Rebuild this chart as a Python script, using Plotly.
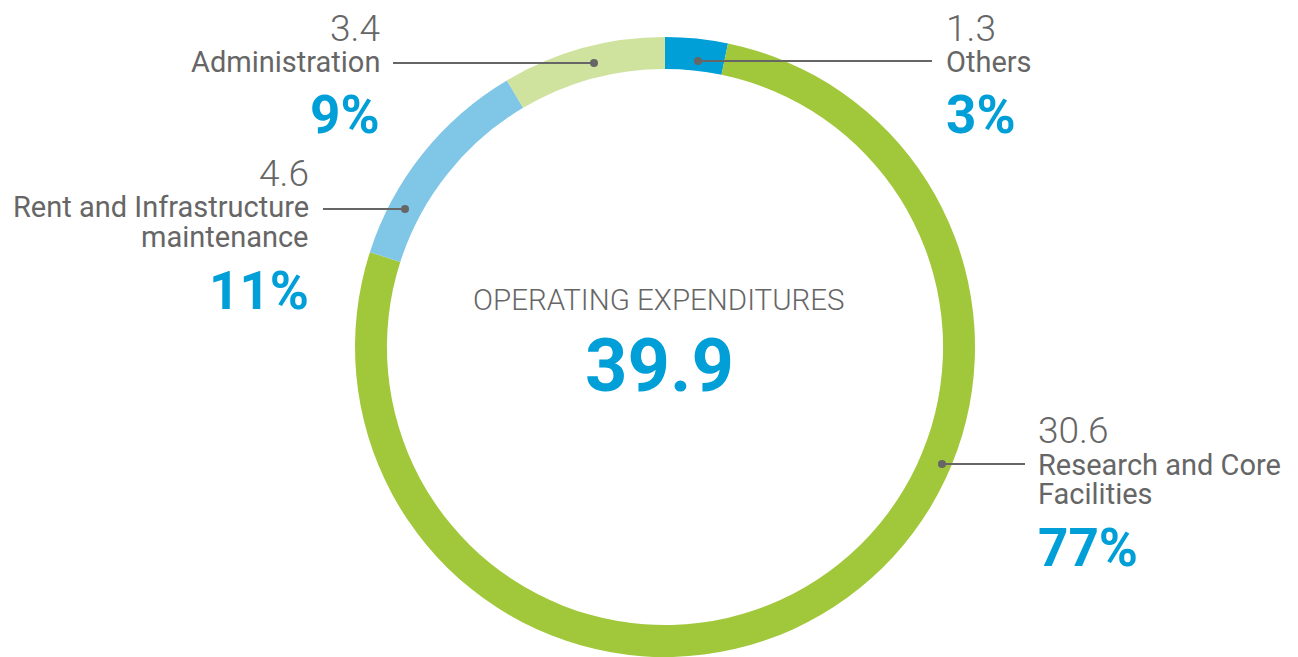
import plotly.graph_objects as go

# ---- data ----
categories = ["Others", "Research and Core Facilities", "Rent and Infrastructure maintenance", "Administration"]
values = [1.3, 30.6, 4.6, 3.4]
percent_labels = ["3%", "77%", "11%", "9%"]
value_labels = ["1.3", "30.6", "4.6", "3.4"]
total_label = "39.9"
center_title = "OPERATING EXPENDITURES"

# ---- styles ----
slice_colors = ["#009FD7", "#A1C83A", "#7FC6E7", "#CFE29E"]
GRAY = "#666666"
BLUE = "#009FD7"
FONT = "Roboto"
OFF = 8  # page body margin
W, H = 1298 - OFF, 657 - OFF

def px(x):
    return (x - OFF) / W

def py(y):
    return 1 - (y - OFF) / H

CX, CY, R = 665, 348, 311

fig = go.Figure()
fig.add_trace(go.Pie(
    values=values,
    labels=categories,
    marker=dict(colors=slice_colors, line=dict(width=0)),
    hole=0.897,
    sort=False,
    direction="clockwise",
    rotation=0,
    textinfo="none",
    hoverinfo="label+value",
    showlegend=False,
    domain=dict(x=[px(CX - R), px(CX + R)], y=[max(0, py(CY + R)), py(CY - R)]),
))

annotations = []
def ann(text, x, y, anchor, size, color, weight=400, height=None):
    d = dict(
        text=text, x=px(x), y=py(y), xref="paper", yref="paper",
        xanchor=anchor, yanchor="middle", showarrow=False,
        font=dict(family=FONT, size=size, color=color, weight=weight),
        borderpad=0, align=anchor if anchor != "center" else "center",
    )
    if height:
        d["height"] = height
    annotations.append(d)

callouts = {
    "Others": dict(x=945, anchor="left", vy=28, lines=[("Others", 61)], py_=115),
    "Research and Core Facilities": dict(x=1037, anchor="left", vy=430,
                                         lines=[("Research and Core", 464), ("Facilities", 493)], py_=548),
    "Rent and Infrastructure maintenance": dict(x=310, anchor="right", vy=173,
                                                lines=[("Rent and Infrastructure", 206), ("maintenance", 236)], py_=291),
    "Administration": dict(x=381, anchor="right", vy=28, lines=[("Administration", 61)], py_=115),
}
for cat, vl, pl in zip(categories, value_labels, percent_labels):
    c = callouts[cat]
    ann(vl, c["x"], c["vy"], c["anchor"], 37, GRAY, 300, height=34)
    for t, yy in c["lines"]:
        ann(t, c["x"], yy, c["anchor"], 29, GRAY, 400, height=29)
    ann(pl, c["x"], c["py_"], c["anchor"], 53, BLUE, 700, height=48)

ann(center_title, 659, 300, "center", 29.5, GRAY, 300)
ann(total_label, 659, 365, "center", 74, BLUE, 700)

# leader lines: (line start x, dot x, y)
leaders = [(932, 698, 61), (1025, 942, 464), (323, 405, 209), (393, 594, 63)]
shapes = []
for x0, xd, y in leaders:
    shapes.append(dict(type="line", xref="paper", yref="paper",
                       x0=px(x0), x1=px(xd), y0=py(y), y1=py(y),
                       line=dict(color=GRAY, width=2)))
    r = 4
    shapes.append(dict(type="circle", xref="paper", yref="paper",
                       x0=px(xd - r), x1=px(xd + r), y0=py(y - r), y1=py(y + r),
                       fillcolor=GRAY, line=dict(width=0)))

fig.update_layout(
    width=W, height=H,
    margin=dict(l=0, r=0, t=0, b=0),
    paper_bgcolor="white", plot_bgcolor="white",
    annotations=annotations, shapes=shapes,
)
fig.write_html("out.html")
